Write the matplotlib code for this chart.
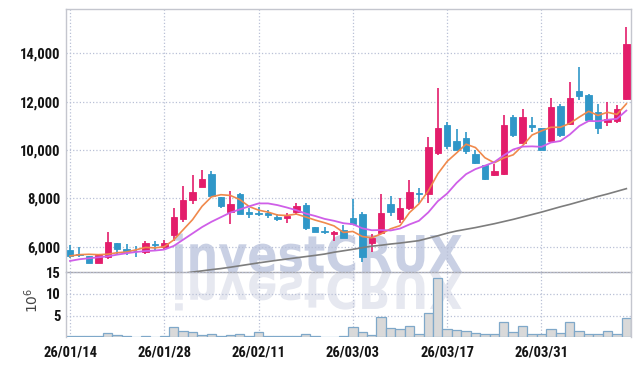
import numpy as np
import matplotlib
matplotlib.use("Agg")
import matplotlib.pyplot as plt
from matplotlib.textpath import TextPath
from matplotlib.font_manager import FontProperties
from matplotlib.patches import PathPatch
from matplotlib.transforms import Affine2D, IdentityTransform

# daily candles, index 0 = 26/01/14
opens = [5863, 5690, 5610, 5340, 5560, 6140, 5910, 5830, 5780, 6130,
         6000, 6470, 7160, 7920, 8480, 9010, 8060, 7450, 8170, 7430,
         7400, 7390, 7240, 7175, 7440, 7720, 6800, 6650, 6510, 6690,
         7200, 7340, 6170, 6580, 7760, 7130, 7610, 8200, 8170, 9890,
         11030, 10360, 10500, 9840, 9380, 8950, 9010, 11360, 10300, 11030,
         10900, 10390, 11820, 11060, 12440, 12280, 11570, 11170, 11210, 12110]
highs = [6060, 5975, 5620, 5700, 6600, 6150, 6100, 6030, 6220, 6250,
         6270, 7610, 8500, 8980, 9190, 9150, 8070, 8320, 8210, 7610,
         7650, 7520, 7340, 7400, 7800, 7800, 6820, 6800, 6660, 6880,
         7970, 7420, 6510, 8170, 8100, 8000, 8760, 8420, 10550, 12550,
         11170, 10860, 10760, 10000, 9390, 9420, 11450, 11460, 11710, 11350,
         10920, 12140, 11890, 12830, 13450, 12320, 11920, 11970, 11880, 15080]
lows = [5520, 5590, 5310, 5330, 5500, 5700, 5660, 5560, 5680, 5860,
        5890, 6230, 7020, 7780, 8460, 8100, 7610, 6940, 7360, 7200,
        7270, 7180, 7060, 6970, 7310, 6690, 6600, 6510, 6250, 6350,
        6930, 5380, 5770, 6560, 7270, 6970, 7520, 7800, 7800, 9780,
        10040, 9990, 9840, 9440, 8770, 8930, 8950, 10550, 10280, 10760,
        10000, 10370, 10540, 11020, 12070, 11240, 10660, 10990, 11100, 12080]
closes = [5620, 5660, 5340, 5650, 6190, 5890, 5810, 5810, 6140, 6080,
          6150, 7220, 7920, 8250, 8790, 8110, 7700, 7770, 7370, 7370,
          7360, 7300, 7160, 7270, 7670, 6760, 6620, 6620, 6610, 6360,
          6940, 5590, 6370, 7380, 7420, 7600, 8260, 8170, 10120, 10910,
          10180, 10010, 9970, 9450, 8790, 9130, 11020, 10620, 11350, 10960,
          10010, 11770, 10630, 12140, 12230, 11250, 10920, 11270, 11700, 14390]
volumes = [0.2, 0.2, 0.2, 0.2, 0.9, 0.5, 0.2, 0.05, 0.2, 0.05,
           0.2, 2.3, 1.4, 1.2, 0.5, 0.7, 0.2, 0.5, 0.7, 0.2,
           1.2, 0.2, 0.2, 0.2, 0.4, 0.7, 0.2, 0.1, 0.1, 0.2,
           2.3, 1.3, 0.5, 4.65, 2.1, 1.85, 2.55, 0.7, 5.6, 13.7,
           1.85, 1.6, 1.4, 0.9, 0.7, 0.7, 3.5, 1.2, 2.55, 0.7,
           0.7, 1.85, 0.9, 3.5, 1.4, 0.7, 0.7, 1.4, 0.7, 4.4]

# moving average lines as drawn on the chart
ma_short = [5615, 5670, 5685, 5670, 5690, 5750, 5780, 5870, 5970, 5950,
            6000, 6280, 6700, 7120, 7670, 8060, 8150, 8120, 7950, 7660,
            7510, 7430, 7310, 7290, 7350, 7230, 7100, 6990, 6860, 6590,
            6630, 6420, 6370, 6530, 6740, 6870, 7410, 7770, 8310, 9010,
            9530, 9880, 10240, 10100, 9680, 9470, 9670, 9800, 10180, 10620,
            10790, 10940, 10940, 11100, 11360, 11600, 11430, 11560, 11470, 11910]
ma_mid = [5410, 5480, 5520, 5560, 5600, 5670, 5730, 5780, 5820, 5840,
          5880, 6030, 6290, 6550, 6810, 7030, 7220, 7410, 7540, 7670,
          7790, 7790, 7720, 7620, 7510, 7370, 7270, 7150, 7070, 6970,
          6930, 6760, 6680, 6690, 6670, 6750, 6920, 7070, 7420, 7880,
          8200, 8640, 9000, 9210, 9350, 9500, 9780, 10020, 10140, 10150,
          10130, 10310, 10370, 10640, 10990, 11200, 11190, 11250, 11290, 11630]
ma_long_start = 12
ma_long = [4900, 4950, 5000, 5050, 5095, 5150, 5210, 5270, 5330, 5385,
           5440, 5490, 5540, 5590, 5640, 5695, 5770, 5830, 5890, 5960,
           6020, 6060, 6110, 6150, 6200, 6250, 6350, 6450, 6560, 6650,
           6720, 6790, 6870, 6950, 7040, 7130, 7230, 7330, 7430, 7540,
           7650, 7750, 7860, 7970, 8080, 8180, 8290, 8400]

date_pos = [0, 10, 20, 30, 40, 50]
date_labels = ["26/01/14", "26/01/28", "26/02/11", "26/03/03", "26/03/17", "26/03/31"]
price_ticks = [6000, 8000, 10000, 12000, 14000]
vol_ticks = [5, 10, 15]

RED = "#e31d6b"
BLUE = "#3097c8"
GRID = "#b9c0d6"
SPINE = "#c4c6ce"
FONT = ["Roboto Condensed", "DejaVu Sans"]

o = np.array(opens)
c = np.array(closes)
idx = np.arange(len(c))
cols = np.where(c >= o, RED, BLUE)

fig = plt.figure(figsize=(6.39, 3.66), dpi=100)
fig.patch.set_facecolor("white")
ax = fig.add_axes([0.1038, 0.2560, 0.8832, 0.7186])
vax = fig.add_axes([0.1038, 0.0784, 0.8832, 0.1776], sharex=ax)
for a in (ax, vax):
    a.set_facecolor("none")
    a.grid(True, color=GRID, linestyle=":", linewidth=0.9)
    a.set_axisbelow(True)
    a.tick_params(length=0, colors="#141414")
    for s in a.spines.values():
        s.set_color(SPINE)
        s.set_linewidth(1.0)

# watermark and its reflection, behind both panels (pixel coords)
tp = TextPath((0, 0), "investCRUX", size=1, prop=FontProperties(family="DejaVu Sans", weight="bold"))
bb = tp.get_extents()
sx = 287 / bb.width
sy = 37 / 0.73
base = 366 - 272
front = Affine2D().translate(-bb.x0, 0).scale(sx, sy).translate(175, base)
back = Affine2D().translate(-bb.x0, 0).scale(sx, -sy).translate(175, base)
fig.add_artist(PathPatch(tp, transform=back + IdentityTransform(),
                         facecolor="#e6e8f0", edgecolor="none", zorder=-2))
fig.add_artist(PathPatch(tp, transform=front + IdentityTransform(),
                         facecolor="#c9d0e4", edgecolor="none", zorder=-1))

# candles
ax.vlines(idx, lows, highs, colors=cols, linewidth=1.2, zorder=2)
ax.bar(idx, np.abs(c - o), bottom=np.minimum(o, c), width=0.68, color=cols,
       edgecolor=cols, linewidth=0.6, zorder=3)
ax.plot(idx, ma_short, color="#f0894c", linewidth=1.2, zorder=4)
ax.plot(idx, ma_mid, color="#cf5fe8", linewidth=1.3, zorder=4)
ax.plot(idx[ma_long_start:], ma_long, color="#7d7d7d", linewidth=1.2, zorder=4)

ax.set_ylim(4940, 15820)
ax.set_xlim(-0.39, 59.46)
ax.set_yticks(price_ticks)
ax.set_yticklabels(["{:,}".format(v) for v in price_ticks])
ax.tick_params(labelbottom=False, pad=4)
ax.spines["bottom"].set_color("#a8a8ae")

vax.bar(idx, volumes, width=1.0, color="#d9d9d9", edgecolor="#7fa8c9", linewidth=0.9, zorder=2)
vax.set_ylim(0, 15)
vax.set_yticks(vol_ticks)
vax.set_xticks(date_pos)
vax.set_xticklabels(date_labels)
vax.spines["top"].set_visible(False)
vax.spines["bottom"].set_visible(False)
vax.tick_params(axis="x", pad=6)
vax.tick_params(axis="y", pad=4)

for lab in ax.get_yticklabels() + vax.get_yticklabels():
    lab.set_family(FONT)
    lab.set_fontweight("bold")
    lab.set_fontsize(10.5)
for lab in vax.get_xticklabels():
    lab.set_family(FONT)
    lab.set_fontweight("bold")
    lab.set_fontsize(10.5)

fig.text(32 / 639, 1 - 300 / 366, r"$10^6$", rotation=90, ha="center", va="center",
         fontsize=10, color="#444444")

fig.savefig("out.png", dpi=100)
